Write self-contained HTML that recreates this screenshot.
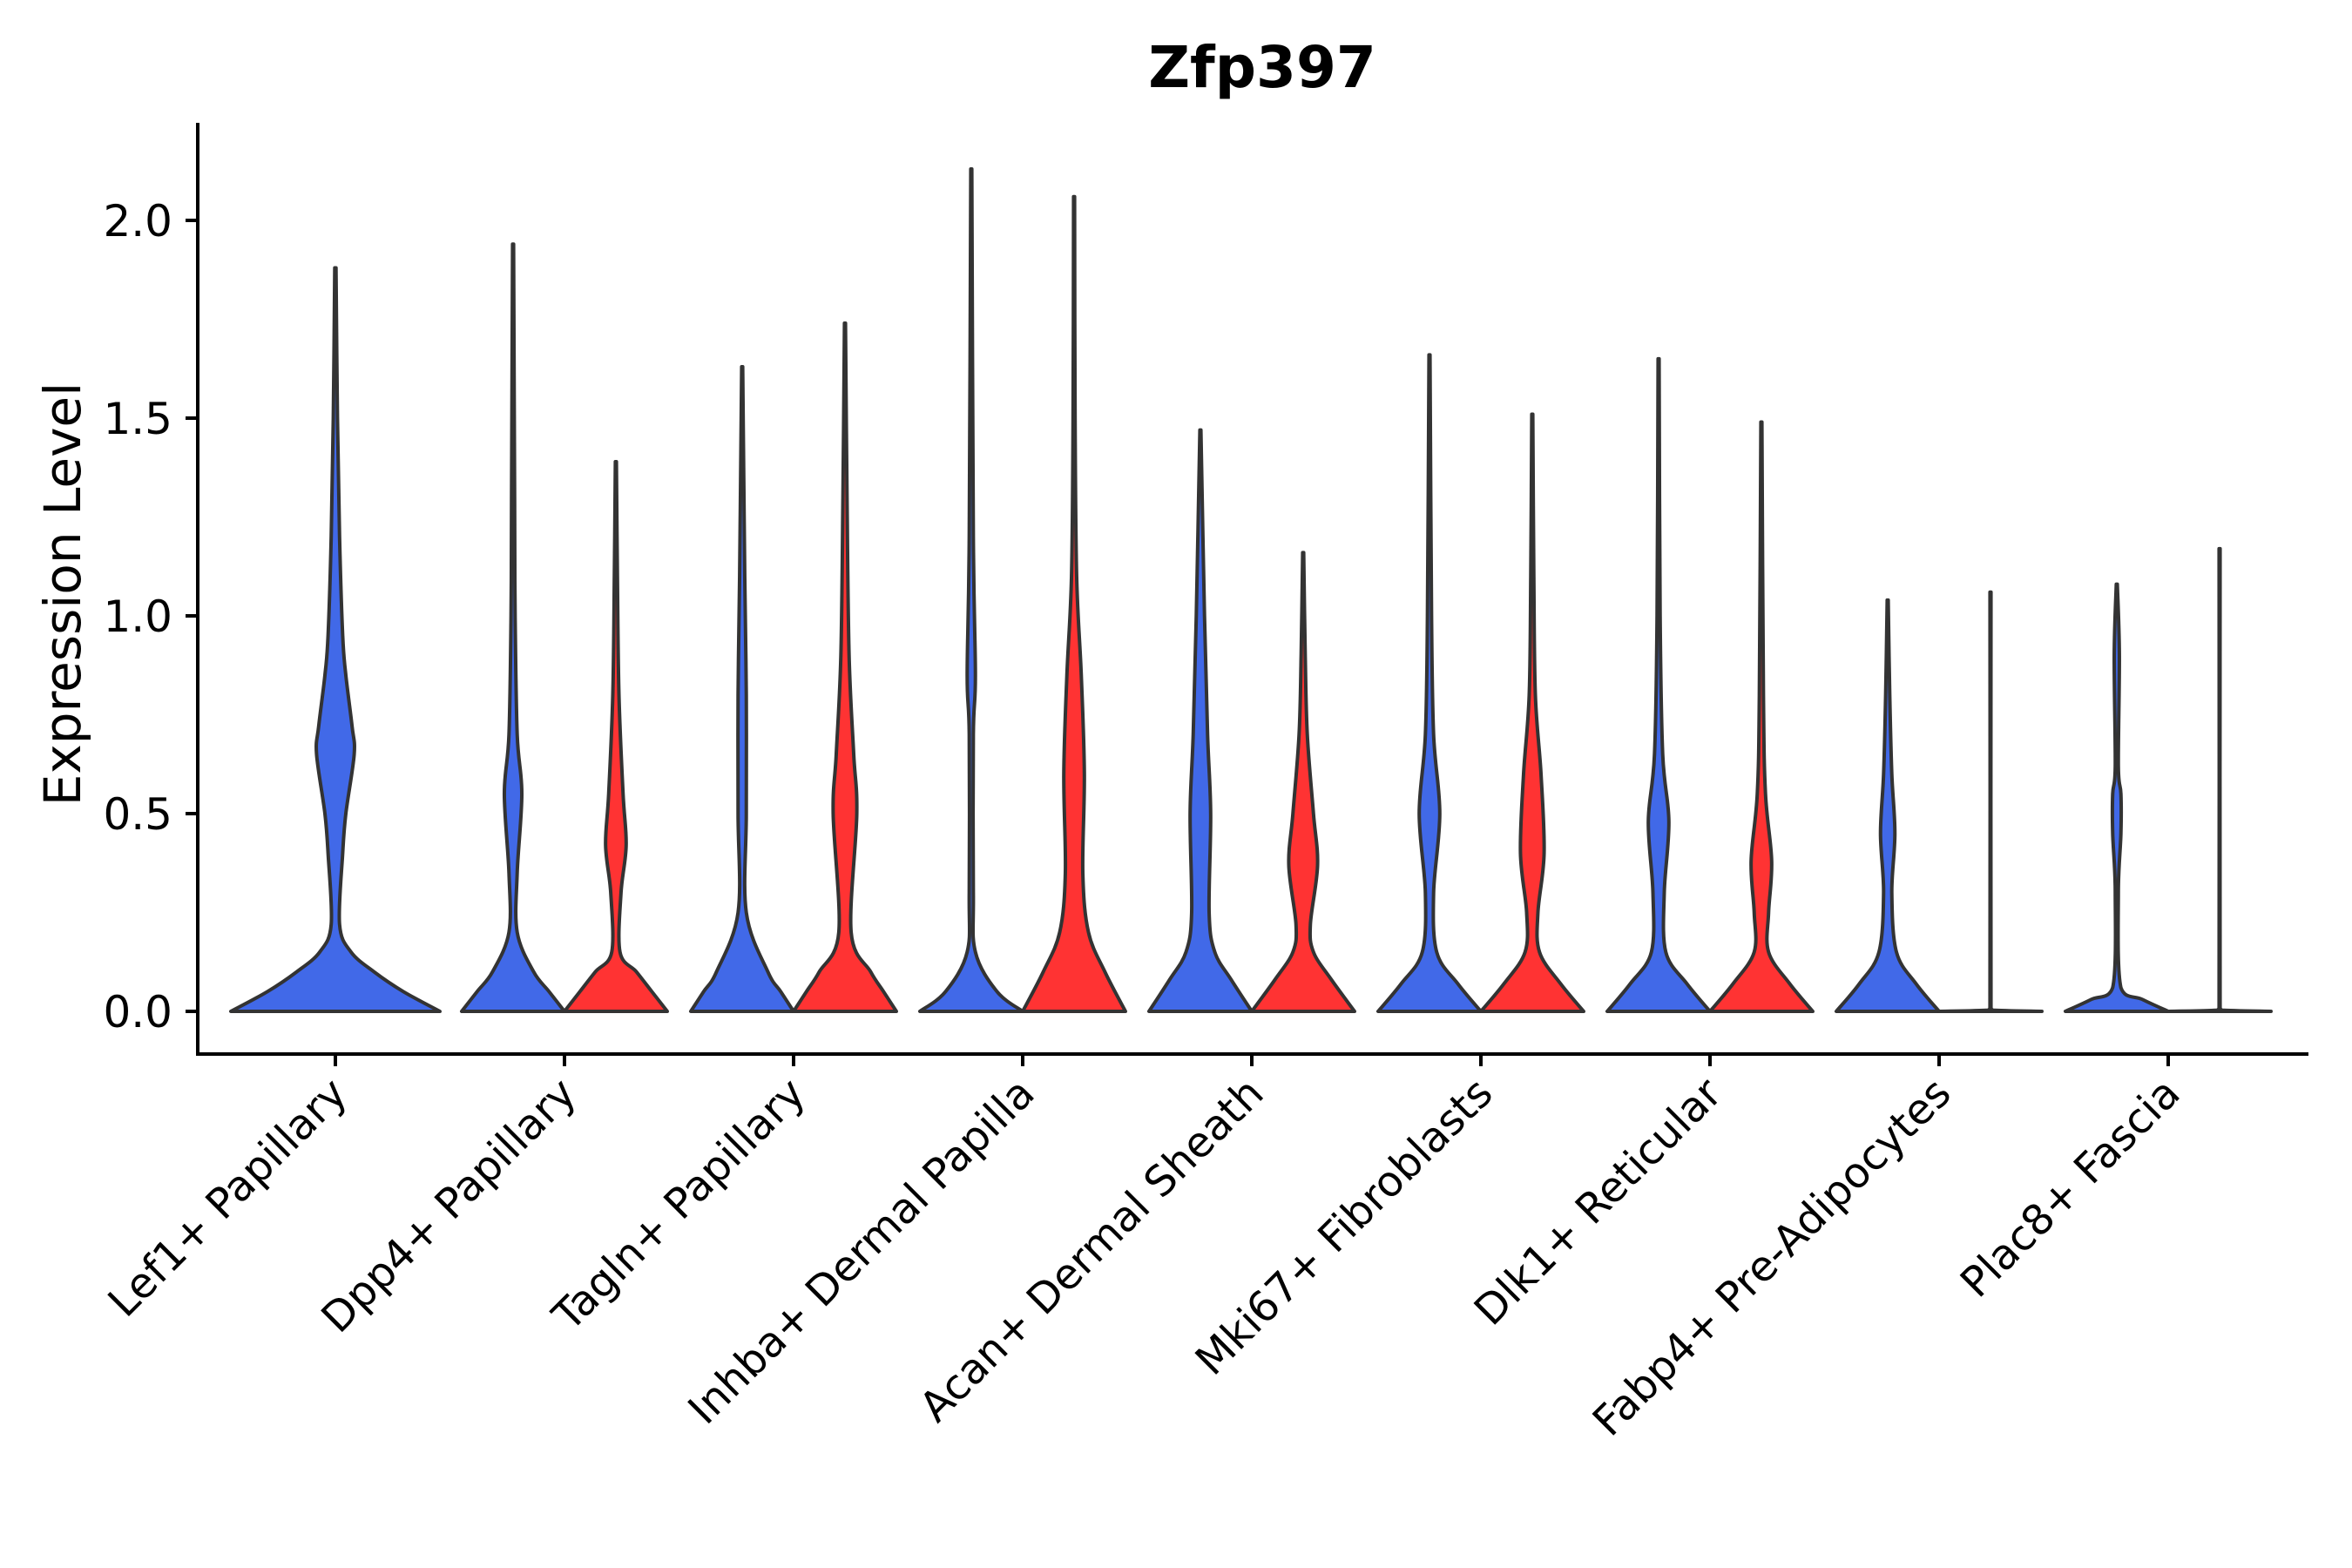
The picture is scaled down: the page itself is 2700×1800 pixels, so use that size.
<!DOCTYPE html>
<html><head><meta charset="utf-8"><style>
html,body{margin:0;padding:0;background:#fff}
svg{display:block}
text{font-family:"DejaVu Sans","Liberation Sans",sans-serif}
</style></head><body>
<svg id="chart" width="2700" height="1800" viewBox="0 0 2700 1800" xmlns="http://www.w3.org/2000/svg">
<text x="1449" y="100" font-size="66" font-weight="bold" text-anchor="middle">Zfp397</text>
<text transform="translate(92,682) rotate(-90)" font-size="58" text-anchor="middle">Expression Level</text>
<g id="marks"></g>
<g id="axes"></g>
</svg>
<script>
const categories = ["Lef1+ Papillary","Dpp4+ Papillary","Tagln+ Papillary","Inhba+ Dermal Papilla","Acan+ Dermal Sheath","Mki67+ Fibroblasts","Dlk1+ Reticular","Fabp4+ Pre-Adipocytes","Plac8+ Fascia"];
const yTicks = [0, 0.5, 1.0, 1.5, 2.0];
const yTickLabels = ["0.0","0.5","1.0","1.5","2.0"];
// density profiles: [expression value, relative half-width]
const blueProfiles = [
 [[0,1],[0.05,0.65],[0.1,0.37],[0.15,0.15],[0.22,0.04],[0.4,0.07],[0.5,0.1],[0.65,0.18],[0.72,0.16],[0.85,0.1],[0.95,0.07],[1.2,0.04],[1.5,0.02],[1.88,0.006]],
 [[0,1],[0.05,0.7],[0.1,0.4],[0.2,0.08],[0.35,0.08],[0.55,0.17],[0.7,0.08],[1.0,0.04],[1.3,0.03],[1.94,0.01]],
 [[0,1],[0.05,0.75],[0.1,0.5],[0.25,0.08],[0.5,0.08],[0.8,0.08],[1.1,0.05],[1.63,0.01]],
 [[0,1],[0.05,0.5],[0.15,0.08],[0.3,0.04],[0.7,0.04],[0.85,0.08],[1.2,0.04],[2.13,0.01]],
 [[0,1],[0.08,0.6],[0.15,0.28],[0.25,0.17],[0.5,0.2],[0.7,0.14],[1.0,0.08],[1.47,0.01]],
 [[0,1],[0.07,0.55],[0.15,0.14],[0.3,0.08],[0.5,0.2],[0.7,0.08],[1.0,0.04],[1.66,0.01]],
 [[0,1],[0.07,0.55],[0.15,0.14],[0.3,0.11],[0.48,0.2],[0.65,0.08],[1.0,0.03],[1.65,0.01]],
 [[0,1],[0.07,0.55],[0.15,0.17],[0.3,0.08],[0.45,0.14],[0.6,0.08],[0.8,0.04],[1.04,0.01]],
 [[0,1],[0.03,0.5],[0.06,0.08],[0.3,0.03],[0.45,0.08],[0.55,0.08],[0.62,0.03],[0.9,0.05],[1.08,0.01]]
];
const redProfiles = [
 null,
 [[0,1],[0.05,0.7],[0.1,0.4],[0.15,0.08],[0.3,0.1],[0.42,0.2],[0.55,0.14],[0.8,0.06],[1.1,0.03],[1.39,0.01]],
 [[0,1],[0.05,0.75],[0.1,0.5],[0.2,0.12],[0.5,0.23],[0.65,0.17],[0.9,0.08],[1.3,0.04],[1.74,0.01]],
 [[0,1],[0.1,0.6],[0.2,0.28],[0.35,0.17],[0.6,0.2],[0.85,0.14],[1.1,0.05],[1.5,0.02],[2.06,0.01]],
 [[0,1],[0.08,0.55],[0.15,0.2],[0.22,0.14],[0.37,0.28],[0.5,0.2],[0.7,0.08],[0.9,0.04],[1.16,0.01]],
 [[0,1],[0.07,0.55],[0.15,0.14],[0.25,0.11],[0.4,0.23],[0.6,0.17],[0.8,0.06],[1.1,0.03],[1.51,0.01]],
 [[0,1],[0.07,0.55],[0.15,0.14],[0.25,0.14],[0.38,0.2],[0.55,0.08],[0.8,0.04],[1.49,0.01]],
 [[0,1],[0.003,0.05],[0.01,0.01],[1.06,0.01]],
 [[0,1],[0.003,0.05],[0.01,0.01],[1.17,0.01]]
];
const NS="http://www.w3.org/2000/svg";
const firstX=385, xStep=263, y0pix=1161, yScale=454, fullHW=120, splitHW=59, splitOff=59;
const xPos=i=>firstX+i*xStep;
const yPos=v=>y0pix-v*yScale;
const marks=document.getElementById('marks');
const axes=document.getElementById('axes');
function mk(tag,attrs,parent){const e=document.createElementNS(NS,tag);for(const k in attrs)e.setAttribute(k,attrs[k]);parent.appendChild(e);return e;}
const clamp=(v,a,b)=>Math.min(Math.max(v,Math.min(a,b)),Math.max(a,b));
function smooth(pts){
  let d='';
  for(let i=0;i<pts.length-1;i++){
    const p0=pts[Math.max(0,i-1)],p1=pts[i],p2=pts[i+1],p3=pts[Math.min(pts.length-1,i+2)];
    const c1=[p1[0]+(p2[0]-p0[0])/6,clamp(p1[1]+(p2[1]-p0[1])/6,p1[1],p2[1])];
    const c2=[p2[0]-(p3[0]-p1[0])/6,clamp(p2[1]-(p3[1]-p1[1])/6,p1[1],p2[1])];
    d+=` C${c1[0]},${c1[1]} ${c2[0]},${c2[1]} ${p2[0]},${p2[1]}`;
  }
  return d;
}
function violinPath(cx,prof,hw){
  const right=prof.map(p=>[cx+p[1]*hw,yPos(p[0])]);
  const left=prof.slice().reverse().map(p=>[cx-p[1]*hw,yPos(p[0])]);
  let d=`M${right[0][0]},${right[0][1]}`+smooth(right);
  d+=` L${left[0][0]},${left[0][1]}`+smooth(left)+' Z';
  return d;
}
categories.forEach((c,i)=>{
  const cx=xPos(i);
  const b=blueProfiles[i], r=redProfiles[i];
  if(!r){
    const e=mk('path',{d:violinPath(cx,b,fullHW),fill:'#4169E8',stroke:'#333','stroke-width':4,'stroke-linejoin':'round'},marks);
    
    
  } else {
    const eb=mk('path',{d:violinPath(cx-splitOff,b,splitHW),fill:'#4169E8',stroke:'#333','stroke-width':4,'stroke-linejoin':'round'},marks);
    
    
    const er=mk('path',{d:violinPath(cx+splitOff,r,splitHW),fill:'#FF3333',stroke:'#333','stroke-width':4,'stroke-linejoin':'round'},marks);
    
    
  }
  const tk=mk('line',{x1:cx,x2:cx,y1:1210,y2:1224,stroke:'#000','stroke-width':4},axes);
  
  
  const t=mk('text',{transform:`translate(${cx+16},${1258}) rotate(-45)`,'font-size':48,'text-anchor':'end'},axes);
  t.textContent=c;
  
  
});
yTicks.forEach((v,i)=>{
  const y=yPos(v);
  const l=mk('line',{x1:213,x2:227,y1:y,y2:y,stroke:'#000','stroke-width':4},axes);
  
  
  const t=mk('text',{x:198,y:y+18,'font-size':50,'text-anchor':'end'},axes);
  t.textContent=yTickLabels[i];
  
  
});
const ya=mk('line',{x1:227,x2:227,y1:141,y2:1212,stroke:'#000','stroke-width':4},axes);


const xa=mk('line',{x1:225,x2:2650,y1:1210,y2:1210,stroke:'#000','stroke-width':4},axes);


</script>
</body></html>
